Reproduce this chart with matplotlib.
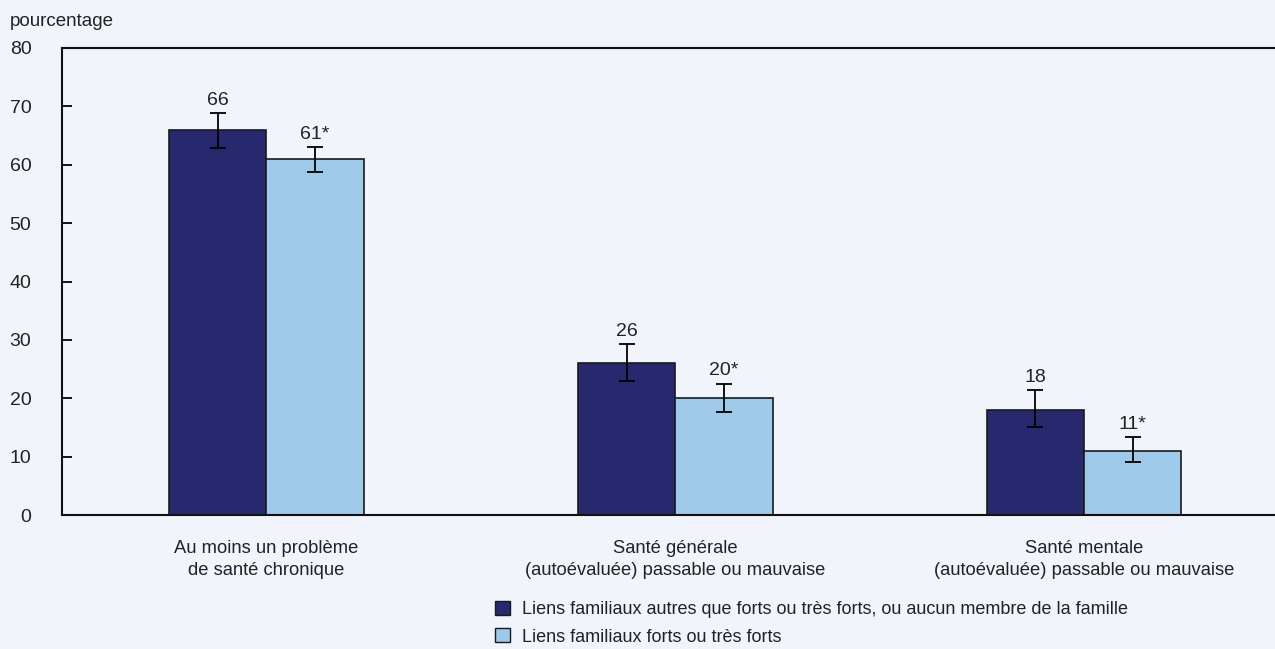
import matplotlib
matplotlib.use("Agg")
import matplotlib.pyplot as plt
import numpy as np

plt.rcParams['font.family'] = ['Liberation Sans Narrow', 'Liberation Sans', 'DejaVu Sans']

categories = ["Au moins un problème\nde santé chronique",
              "Santé générale\n(autoévaluée) passable ou mauvaise",
              "Santé mentale\n(autoévaluée) passable ou mauvaise"]
series_names = ["Liens familiaux autres que forts ou très forts, ou aucun membre de la famille",
                "Liens familiaux forts ou très forts"]
weak_vals = [66, 26, 18]
strong_vals = [61, 20, 11]
weak_labels = ["66", "26", "18"]
strong_labels = ["61*", "20*", "11*"]
# confidence interval bounds
weak_low = [62.8, 22.9, 15.0]
weak_high = [68.9, 29.3, 21.4]
strong_low = [58.8, 17.7, 9.0]
strong_high = [63.0, 22.5, 13.4]
yticks = [0, 10, 20, 30, 40, 50, 60, 70, 80]

bg = '#f1f4fa'
dark = '#27286d'
light = '#9fc9e9'
txt = '#222222'

fig = plt.figure(figsize=(12.75, 6.49), dpi=100, facecolor=bg)
ax = fig.add_axes([62/1275, 134/649, 1213/1275, 467/649], facecolor=bg)

x = np.arange(len(categories))
w = 0.238

for vals, lo, hi, labs, col, off, name in [
        (weak_vals, weak_low, weak_high, weak_labels, dark, -w/2, series_names[0]),
        (strong_vals, strong_low, strong_high, strong_labels, light, w/2, series_names[1])]:
    vals = np.array(vals)
    err = [vals - np.array(lo), np.array(hi) - vals]
    ax.bar(x + off, vals, w, color=col, edgecolor='#1a1a1a', linewidth=1.2, label=name, zorder=2)
    ax.errorbar(x + off, vals, yerr=err, fmt='none', ecolor='black', elinewidth=1.3,
                capsize=6, capthick=1.3, zorder=3)
    for xi, h, lab in zip(x + off, hi, labs):
        ax.annotate(lab, (xi, h), xytext=(0, 3), textcoords='offset points',
                    ha='center', va='bottom', fontsize=14, color=txt)

ax.set_xlim(-0.5, 2.467)
ax.set_ylim(0, 80)
ax.set_yticks(yticks)
ax.set_xticks(x)
ax.set_xticklabels(categories, fontsize=13.2, color=txt, linespacing=1.38)
ax.tick_params(axis='x', length=0, pad=18)
ax.tick_params(axis='y', direction='in', length=7, width=1.3, labelsize=14,
               labelcolor=txt, pad=22)
for lab in ax.get_yticklabels():
    lab.set_horizontalalignment('right')

ax.spines['right'].set_visible(False)
for s in ['left', 'top', 'bottom']:
    ax.spines[s].set_linewidth(1.5)
    ax.spines[s].set_color('#111111')

fig.text(10/1275, 1 - 22/649, "pourcentage", fontsize=13.5, color=txt, va='center', ha='left')

leg = fig.legend(loc='upper left', bbox_to_anchor=(479/1275, 1 - 585/649), frameon=False,
                 fontsize=13, handlelength=0.8, handleheight=0.8, handletextpad=0.7,
                 labelspacing=0.55, labelcolor=txt)
for h in leg.legend_handles:
    h.set_edgecolor('#1a1a1a')
    h.set_linewidth(1.0)

fig.savefig('out.png', dpi=100, facecolor=bg)
